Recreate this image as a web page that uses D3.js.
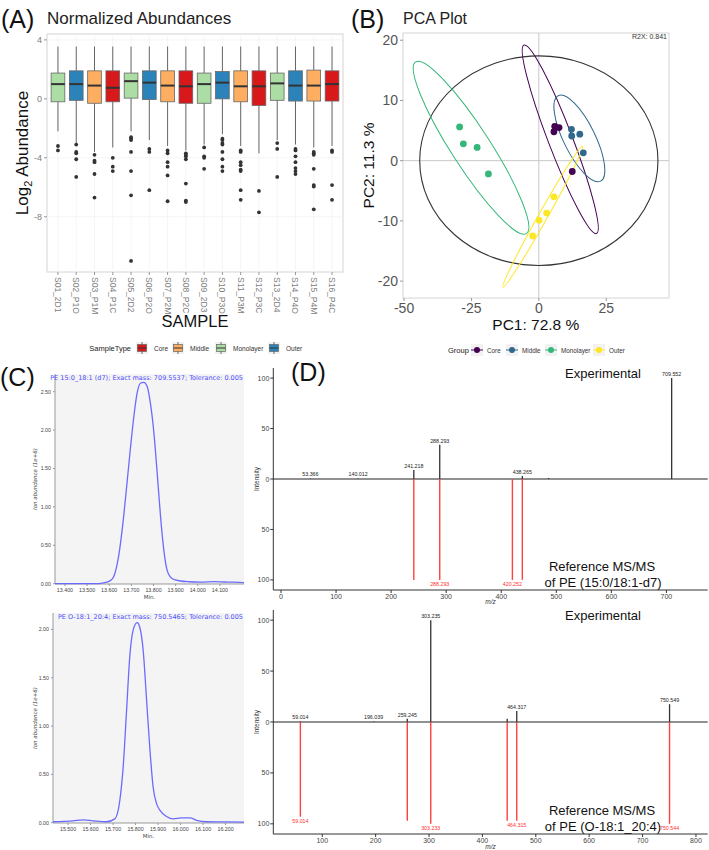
<!DOCTYPE html>
<html><head><meta charset="utf-8">
<script src="https://cdn.jsdelivr.net/npm/d3@7"></script>
<style>
body{margin:0;background:#fff;}
svg{display:block;font-family:"Liberation Sans",Arial,sans-serif;}
</style></head><body>
<svg id="c" width="709" height="850"></svg>
<script>
// ---------- DATA: Panel A (boxplots) ----------
const samples = ["S01_2D1","S02_P1O","S03_P1M","S04_P1C","S05_2D2","S06_P2O","S07_P2M","S08_P2C","S09_2D3","S10_P3O","S11_P3M","S12_P3C","S13_2D4","S14_P4O","S15_P4M","S16_P4C"];
const sampleType = ["Monolayer","Outer","Middle","Core","Monolayer","Outer","Middle","Core","Monolayer","Outer","Middle","Core","Monolayer","Outer","Middle","Core"];
const boxQ3 = [1.75,1.9,1.9,1.9,1.75,1.9,1.9,1.9,1.75,1.85,1.9,1.9,1.75,1.9,1.95,1.9];
const boxMed = [1.0,1.0,0.9,0.75,1.2,1.1,0.9,0.85,1.0,1.1,0.85,0.85,1.05,0.9,0.9,1.0];
const boxQ1 = [-0.2,-0.1,-0.3,-0.2,0.05,-0.05,-0.2,-0.3,-0.3,0.0,-0.2,-0.45,-0.1,-0.15,-0.15,-0.15];
const whiskHi = [3.55,3.55,3.55,3.55,3.55,3.55,3.55,3.55,3.55,3.55,3.55,3.55,3.55,3.55,3.55,3.55];
const whiskLo = [-2.2,-3.0,-3.6,-3.3,-2.2,-2.8,-3.2,-3.5,-3.1,-2.4,-3.2,-3.7,-2.8,-3.1,-3.3,-3.2];
const outliers = [
 [-3.2,-3.5],
 [-3.1,-3.6,-3.7,-4.1,-5.3],
 [-3.8,-4.2,-4.3,-5.1,-6.7],
 [-4.0,-4.6,-4.9],
 [-2.6,-2.7,-2.8,-3.6,-4.9,-6.55,-11.0],
 [-3.4,-3.6,-6.2],
 [-3.5,-3.7,-4.3,-4.6,-5.2,-6.95],
 [-3.7,-3.8,-3.9,-4.1,-5.75,-6.9,-7.0],
 [-3.3,-3.9,-4.0,-4.75],
 [-2.7,-2.8,-3.0,-3.1,-3.6,-4.1,-4.6,-4.9],
 [-3.5,-3.6,-4.3,-4.5,-4.8,-4.9,-6.2,-6.85],
 [-6.25,-7.7],
 [-3.0,-3.4,-5.3],
 [-3.4,-3.5,-3.9,-4.3,-4.7,-4.9,-5.1],
 [-3.6,-3.7,-3.8,-4.75,-5.85,-5.95,-7.5],
 [-3.5,-3.6,-5.85,-6.85]
];
const yTicksA = [4,0,-4,-8];
const typeOrder = ["Core","Middle","Monolayer","Outer"];
const typeColors = ["#D7191C","#FDAE61","#ABDDA4","#2B83BA"];

// ---------- DATA: Panel B (PCA) ----------
const pcaGroup = ["Core","Core","Core","Core","Middle","Middle","Middle","Middle","Monolayer","Monolayer","Monolayer","Monolayer","Outer","Outer","Outer","Outer"];
const pc1 = [5.9,7.5,5.6,12.4, 12.1,12.2,15.2,16.5, -29.4,-28.0,-22.9,-18.7, 5.6,2.9,0.1,-2.3];
const pc2 = [5.7,5.5,4.8,-1.8, 5.2,4.1,4.4,1.3, 5.6,2.8,2.2,-2.2, -6.0,-8.7,-9.9,-12.5];
const ellGroup = ["Monolayer","Core","Middle","Outer"];
const ellCx = [-25.15, 7.95, 15.05, 1.45];
const ellCy = [2.15, 3.55, 3.7, -9.3];
const ellEndX = [-45.7, -5.5, 7.2, -13.3];
const ellEndY = [16.4, 19.2, 10.8, -21.0];
const ellRatio = [0.19, 0.12, 0.33, 0.055];
const hotellingRx = 44.2, hotellingRy = 17.4;
const groupColors = ["#440154","#31688E","#35B779","#FDE725"];
const xTicksB = [-50,-25,0,25];
const yTicksB = [20,10,0,-10,-20];

// ---------- DATA: Panel C (chromatograms) ----------
const chrom1T = [13.355,13.40,13.45,13.50,13.55,13.574,13.605,13.620,13.642,13.665,13.680,13.695,13.711,13.726,13.741,13.756,13.771,13.786,13.802,13.817,13.832,13.847,13.862,13.885,13.923,13.96,14.014,14.074,14.12,14.165,14.209];
const chrom1Y = [0,0,0,0,0.002,0.01,0.04,0.09,0.35,0.87,1.3,1.74,2.17,2.48,2.61,2.62,2.57,2.35,1.96,1.43,0.87,0.43,0.17,0.065,0.035,0.025,0.02,0.026,0.022,0.02,0.013];
const chrom2T = [15.433,15.522,15.567,15.611,15.671,15.708,15.730,15.745,15.760,15.774,15.789,15.807,15.819,15.834,15.849,15.864,15.878,15.893,15.908,15.938,15.967,16.004,16.042,16.071,16.116,16.205,16.282];
const chrom2Y = [0.01,0.02,0.03,0.02,0.01,0.04,0.23,0.58,1.16,1.71,1.99,2.07,2.02,1.78,1.27,0.75,0.37,0.2,0.13,0.065,0.04,0.05,0.05,0.025,0.01,0.008,0.007];
const chrom1Title = "PE 15:0_18:1 (d7); Exact mass: 709.5537; Tolerance: 0.005";
const chrom2Title = "PE O-18:1_20:4; Exact mass: 750.5465; Tolerance: 0.005";
const chrom1XTicks = [13.4,13.5,13.6,13.7,13.8,13.9,14.0,14.1];
const chrom1YTicks = [0,0.5,1,1.5,2,2.5];
const chrom2XTicks = [15.5,15.6,15.7,15.8,15.9,16.0,16.1,16.2];
const chrom2YTicks = [0,0.5,1,1.5,2];

// ---------- DATA: Panel D (MS/MS mirror spectra) ----------
const ms1ExpMz = [53.366,140.012,241.218,288.293,438.265,486,709.552];
const ms1ExpInt = [0.5,0.5,9,34,3,1,100];
const ms1ExpLab = ["53.366","140.012","241.218","288.293","438.265","","709.552"];
const ms1RefMz = [241.2,288.293,420.252,438.3];
const ms1RefInt = [100,100,100,100];
const ms1RefLab = ["","288.293","420.252",""];
const ms2ExpMz = [59.014,196.039,259.245,303.235,446.4,464.317,750.549];
const ms2ExpInt = [0.5,0.5,3.3,100,3.3,10.8,17.5];
const ms2ExpLab = ["59.014","196.039","259.245","303.235","","464.317","750.549"];
const ms2RefMz = [59.014,259.3,303.233,446.4,464.315,750.544];
const ms2RefInt = [93,97,100,97,97,100];
const ms2RefLab = ["59.014","","303.233","","464.315","750.544"];
const ms1XTicks = [0,100,200,300,400,500,600,700];
const ms2XTicks = [100,200,300,400,500,600,700,800];
const msYTicks = [100,50,0,-50,-100];

// =================== DRAW ===================
const svg = d3.select("#c");
const typeColor = d3.scaleOrdinal().domain(typeOrder).range(typeColors);
const grpColor = d3.scaleOrdinal().domain(typeOrder).range(groupColors);

// ---------- Panel A ----------
(function(){
  const g = svg.append("g");
  const x = d3.scalePoint().domain(samples).range([47,343]).padding(0.6);
  const y = d3.scaleLinear().domain([-11.75,4.4]).range([272,34]);
  const bw = x.step()*0.75;
  const [x0,x1] = x.range(), [y0,y1] = y.range();
  g.append("rect").attr("x",x0).attr("y",y1).attr("width",x1-x0).attr("height",y0-y1)
    .attr("fill","#fff").attr("stroke","#d4d4d4").attr("stroke-width",1);
  g.selectAll(".gy").data(yTicksA).join("line").attr("x1",x0).attr("x2",x1)
    .attr("y1",d=>y(d)).attr("y2",d=>y(d)).attr("stroke","#f3f3f3").attr("stroke-width",0.8);
  g.selectAll(".gx").data(samples).join("line").attr("y1",y1).attr("y2",y0)
    .attr("x1",d=>x(d)).attr("x2",d=>x(d)).attr("stroke","#f3f3f3").attr("stroke-width",0.8);
  g.selectAll(".yt").data(yTicksA).join("line").attr("x1",x0-3).attr("x2",x0)
    .attr("y1",d=>y(d)).attr("y2",d=>y(d)).attr("stroke","#999");
  g.selectAll(".ytl").data(yTicksA).join("text").attr("x",x0-5).attr("y",d=>y(d)+3)
    .attr("text-anchor","end").attr("font-size",9).attr("fill","#808080").text(d=>d);
  g.selectAll(".xt").data(samples).join("line").attr("x1",d=>x(d)).attr("x2",d=>x(d))
    .attr("y1",y0).attr("y2",y0+3).attr("stroke","#999");
  g.selectAll(".xtl").data(samples).join("text")
    .attr("transform",d=>`translate(${x(d)-3},${y0+5}) rotate(90)`)
    .attr("font-size",8.5).attr("fill","#808080").text(d=>d);
  samples.forEach((s,i)=>{
    const cx = x(s);
    g.append("line").attr("x1",cx).attr("x2",cx).attr("y1",y(whiskHi[i])).attr("y2",y(boxQ3[i])).attr("stroke","#666").attr("stroke-width",1);
    g.append("line").attr("x1",cx).attr("x2",cx).attr("y1",y(boxQ1[i])).attr("y2",y(whiskLo[i])).attr("stroke","#666").attr("stroke-width",1);
    g.append("rect").attr("x",cx-bw/2).attr("y",y(boxQ3[i])).attr("width",bw)
      .attr("height",y(boxQ1[i])-y(boxQ3[i])).attr("fill",typeColor(sampleType[i]))
      .attr("stroke","#666").attr("stroke-width",0.8);
    g.append("line").attr("x1",cx-bw/2).attr("x2",cx+bw/2).attr("y1",y(boxMed[i])).attr("y2",y(boxMed[i]))
      .attr("stroke","#333").attr("stroke-width",2);
    g.selectAll(null).data(outliers[i]).join("circle").attr("cx",cx).attr("cy",d=>y(d)).attr("r",1.9).attr("fill","#333");
  });
  g.append("text").attr("x",1).attr("y",28).attr("font-size",25).attr("fill","#111").text("(A)");
  g.append("text").attr("x",x0).attr("y",24).attr("font-size",17).attr("fill","#222").text("Normalized Abundances");
  const yl = g.append("text").attr("transform",`translate(28,${(y0+y1)/2}) rotate(-90)`).attr("text-anchor","middle")
    .attr("font-size",17).attr("fill","#111");
  yl.append("tspan").text("Log");
  yl.append("tspan").attr("font-size",11).attr("dy",4).text("2");
  yl.append("tspan").attr("dy",-4).text(" Abundance");
  g.append("text").attr("x",(x0+x1)/2).attr("y",327).attr("text-anchor","middle").attr("font-size",16.5).attr("fill","#111").text("SAMPLE");
  // legend
  const lg = g.append("g");
  lg.append("text").attr("x",131).attr("y",351).attr("text-anchor","end").attr("font-size",7.5).attr("fill","#222").text("SampleType");
  const keyX = [142,178,221,274];
  typeOrder.forEach((t,i)=>{
    lg.append("rect").attr("x",keyX[i]-6).attr("y",342).attr("width",12).attr("height",12).attr("fill","#f2f2f2");
    lg.append("line").attr("x1",keyX[i]).attr("x2",keyX[i]).attr("y1",342).attr("y2",354).attr("stroke","#666");
    lg.append("rect").attr("x",keyX[i]-4.5).attr("y",344.5).attr("width",9).attr("height",7).attr("fill",typeColor(t)).attr("stroke","#666").attr("stroke-width",0.7);
    lg.append("line").attr("x1",keyX[i]-4.5).attr("x2",keyX[i]+4.5).attr("y1",348).attr("y2",348).attr("stroke","#333").attr("stroke-width",1);
    lg.append("text").attr("x",keyX[i]+12).attr("y",350.5).attr("font-size",6.5).attr("fill","#333").text(t);
  });
})();

// ---------- Panel B ----------
(function(){
  const g = svg.append("g");
  const x = d3.scaleLinear().domain([-50.4,48.3]).range([403,669]);
  const y = d3.scaleLinear().domain([-22.8,21.2]).range([298,33]);
  const [x0,x1] = x.range(), [y0,y1] = y.range();
  g.append("rect").attr("x",x0).attr("y",y1).attr("width",x1-x0).attr("height",y0-y1)
    .attr("fill","#fff").attr("stroke","#d4d4d4");
  g.append("line").attr("x1",x(0)).attr("x2",x(0)).attr("y1",y1).attr("y2",y0).attr("stroke","#c8c8c8").attr("stroke-width",1);
  g.append("line").attr("y1",y(0)).attr("y2",y(0)).attr("x1",x0).attr("x2",x1).attr("stroke","#c8c8c8").attr("stroke-width",1);
  g.selectAll(".xt").data(xTicksB).join("line").attr("x1",d=>x(d)).attr("x2",d=>x(d)).attr("y1",y0).attr("y2",y0+3).attr("stroke","#999");
  g.selectAll(".xtl").data(xTicksB).join("text").attr("x",d=>x(d)).attr("y",y0+15).attr("text-anchor","middle")
    .attr("font-size",14).attr("fill","#555").text(d=>d);
  g.selectAll(".yt").data(yTicksB).join("line").attr("x1",x0-3).attr("x2",x0).attr("y1",d=>y(d)).attr("y2",d=>y(d)).attr("stroke","#999");
  g.selectAll(".ytl").data(yTicksB).join("text").attr("x",x0-5).attr("y",d=>y(d)+5).attr("text-anchor","end")
    .attr("font-size",14).attr("fill","#555").text(d=>d);
  g.append("ellipse").attr("cx",x(0)).attr("cy",y(0)).attr("rx",x(hotellingRx)-x(0)).attr("ry",y(0)-y(hotellingRy))
    .attr("fill","none").attr("stroke","#333").attr("stroke-width",1.1);
  ellGroup.forEach((gr,i)=>{
    const px=x(ellCx[i]), py=y(ellCy[i]);
    const ux=x(ellEndX[i])-px, uy=y(ellEndY[i])-py;
    const a=Math.hypot(ux,uy), ang=Math.atan2(uy,ux)*180/Math.PI;
    g.append("ellipse").attr("transform",`translate(${px},${py}) rotate(${ang})`)
      .attr("rx",a).attr("ry",a*ellRatio[i]).attr("fill","none").attr("stroke",grpColor(gr)).attr("stroke-width",1);
  });
  g.selectAll(".pt").data(pc1).join("circle").attr("cx",d=>x(d)).attr("cy",(d,i)=>y(pc2[i])).attr("r",3.4)
    .attr("fill",(d,i)=>grpColor(pcaGroup[i]));
  g.append("text").attr("x",x1-2).attr("y",y1+6).attr("text-anchor","end").attr("font-size",7).attr("fill","#333").text("R2X: 0.841");
  g.append("text").attr("x",351).attr("y",28).attr("font-size",25).attr("fill","#111").text("(B)");
  g.append("text").attr("x",x0).attr("y",24).attr("font-size",16).attr("fill","#222").text("PCA Plot");
  g.append("text").attr("transform",`translate(374,${(y0+y1)/2}) rotate(-90)`).attr("text-anchor","middle")
    .attr("font-size",15.5).attr("fill","#111").text("PC2: 11.3 %");
  g.append("text").attr("x",x(0)-3).attr("y",330).attr("text-anchor","middle").attr("font-size",15.5).attr("fill","#111").text("PC1: 72.8 %");
  // legend
  g.append("text").attr("x",448).attr("y",353).attr("font-size",7.5).attr("fill","#222").text("Group");
  const keyX = [477,512,551,599];
  typeOrder.forEach((t,i)=>{
    g.append("rect").attr("x",keyX[i]-6).attr("y",344).attr("width",12).attr("height",12).attr("fill","#f2f2f2");
    g.append("line").attr("x1",keyX[i]-6).attr("x2",keyX[i]+6).attr("y1",350).attr("y2",350).attr("stroke",grpColor(t)).attr("stroke-width",1);
    g.append("circle").attr("cx",keyX[i]).attr("cy",350).attr("r",3).attr("fill",grpColor(t));
    g.append("text").attr("x",keyX[i]+10).attr("y",352.5).attr("font-size",6.3).attr("fill","#333").text(t);
  });
})();

// ---------- Panel C ----------
function chrom(T,Y,xDom,yDom,xr,yr,xt,yt,title,labelY){
  const g = svg.append("g");
  const x = d3.scaleLinear().domain(xDom).range(xr);
  const y = d3.scaleLinear().domain(yDom).range(yr);
  const [x0,x1]=xr,[y0,y1]=yr;
  g.append("rect").attr("x",x0).attr("y",y1).attr("width",x1-x0).attr("height",y0-y1).attr("fill","#f4f4f4");
  g.append("line").attr("x1",x0).attr("x2",x0).attr("y1",y1).attr("y2",y0).attr("stroke","#999");
  g.append("line").attr("x1",x0).attr("x2",x1).attr("y1",y0).attr("y2",y0).attr("stroke","#999");
  g.selectAll(".yt").data(yt).join("line").attr("x1",x0-2).attr("x2",x0).attr("y1",d=>y(d)).attr("y2",d=>y(d)).attr("stroke","#999");
  g.selectAll(".ytl").data(yt).join("text").attr("x",x0-4).attr("y",d=>y(d)+2).attr("text-anchor","end")
    .attr("font-size",5.3).attr("fill","#444").attr("font-family","Liberation Sans Narrow, Liberation Sans").text(d=>d3.format(".2f")(d));
  g.selectAll(".xt").data(xt).join("line").attr("x1",d=>x(d)).attr("x2",d=>x(d)).attr("y1",y0).attr("y2",y0+2).attr("stroke","#999");
  g.selectAll(".xtl").data(xt).join("text").attr("x",d=>x(d)).attr("y",y0+7.5).attr("text-anchor","middle")
    .attr("font-size",5.3).attr("fill","#444").attr("font-family","Liberation Sans Narrow, Liberation Sans").text(d=>d3.format(".3f")(d));
  const line = d3.line().x((d,i)=>x(T[i])).y(d=>y(d)).curve(d3.curveMonotoneX);
  g.append("path").attr("d",line(Y)).attr("fill","none").attr("stroke","#6b6bff").attr("stroke-width",1.3);
  g.append("text").attr("x",x1-1).attr("y",y1+6).attr("text-anchor","end").attr("font-size",6.5)
    .attr("fill","#4d4dff").attr("font-family","DejaVu Sans").text(title);
  g.append("text").attr("transform",`translate(37,${(y0+y1)/2}) rotate(-90)`).attr("text-anchor","middle")
    .attr("font-size",5.5).attr("font-style","italic").attr("fill","#444").attr("font-family","DejaVu Sans").text("Ion abundance (1e+6)");
  g.append("text").attr("x",(x0+x1)/2).attr("y",labelY).attr("text-anchor","middle").attr("font-size",5.5)
    .attr("fill","#444").attr("font-family","DejaVu Sans").text("Min.");
}
chrom(chrom1T,chrom1Y,[13.355,14.209],[-0.004,2.73],[55,244],[584,374],chrom1XTicks,chrom1YTicks,chrom1Title,599);
chrom(chrom2T,chrom2Y,[15.433,16.282],[-0.003,2.17],[53,244],[823,613],chrom2XTicks,chrom2YTicks,chrom2Title,838);
svg.append("text").attr("x",0).attr("y",386).attr("font-size",25).attr("fill","#111").text("(C)");

// ---------- Panel D ----------
function mirror(eMz,eInt,eLab,rMz,rInt,rLab,xDom,yr,xt,name,topY,refY1,refY2,mzY){
  const g = svg.append("g");
  const x = d3.scaleLinear().domain(xDom).range([273.3,707.7]);
  const y = d3.scaleLinear().domain([-110,110]).range(yr);
  const [x0,x1]=x.range(),[y0,y1]=yr;
  g.append("line").attr("x1",x0).attr("x2",x0).attr("y1",y1).attr("y2",y0).attr("stroke","#333").attr("stroke-width",1);
  g.append("line").attr("x1",x0).attr("x2",x1).attr("y1",y0).attr("y2",y0).attr("stroke","#333").attr("stroke-width",1);
  g.selectAll(".yt").data(msYTicks).join("line").attr("x1",x0-3).attr("x2",x0).attr("y1",d=>y(d)).attr("y2",d=>y(d)).attr("stroke","#333");
  g.selectAll(".ytl").data(msYTicks).join("text").attr("x",x0-4).attr("y",d=>y(d)+2.5).attr("text-anchor","end")
    .attr("font-size",7).attr("fill","#444").text(d=>Math.abs(d));
  g.selectAll(".xt").data(xt).join("line").attr("x1",d=>x(d)).attr("x2",d=>x(d)).attr("y1",y0).attr("y2",y0+3).attr("stroke","#333");
  g.selectAll(".xtl").data(xt).join("text").attr("x",d=>x(d)).attr("y",y0+9).attr("text-anchor","middle")
    .attr("font-size",7).attr("fill","#444").text(d=>d);
  g.append("text").attr("transform",`translate(259,${y(0)}) rotate(-90)`).attr("text-anchor","middle")
    .attr("font-size",6.5).attr("fill","#333").text("Intensity");
  g.append("text").attr("x",(x0+x1)/2).attr("y",mzY).attr("text-anchor","middle").attr("font-size",6.5).attr("font-style","italic").attr("fill","#333").text("m/z");
  g.append("line").attr("x1",x0).attr("x2",x1).attr("y1",y(0)).attr("y2",y(0)).attr("stroke","#222").attr("stroke-width",1);
  g.selectAll(".rp").data(rMz).join("line").attr("x1",d=>x(d)).attr("x2",d=>x(d))
    .attr("y1",y(0)).attr("y2",(d,i)=>y(-rInt[i])).attr("stroke","#ff4040").attr("stroke-width",1.4);
  g.selectAll(".rl").data(rMz).join("text").attr("x",d=>x(d)).attr("y",(d,i)=>y(-rInt[i])+6.5)
    .attr("text-anchor","middle").attr("font-size",5.3).attr("fill","#ff3030").text((d,i)=>rLab[i]);
  g.selectAll(".ep").data(eMz).join("line").attr("x1",d=>x(d)).attr("x2",d=>x(d))
    .attr("y1",y(0)).attr("y2",(d,i)=>y(eInt[i])).attr("stroke","#333").attr("stroke-width",1.3);
  g.selectAll(".el").data(eMz).join("text").attr("x",d=>x(d)).attr("y",(d,i)=>y(eInt[i])-2)
    .attr("text-anchor","middle").attr("font-size",5.3).attr("fill","#222").text((d,i)=>eLab[i]);
  g.append("text").attr("x",603).attr("y",topY).attr("text-anchor","middle").attr("font-size",13).attr("fill","#111").text("Experimental");
  g.append("text").attr("x",602).attr("y",refY1).attr("text-anchor","middle").attr("font-size",13).attr("fill","#111").text("Reference MS/MS");
  g.append("text").attr("x",603).attr("y",refY2).attr("text-anchor","middle").attr("font-size",13).attr("fill","#111").text(name);
}
mirror(ms1ExpMz,ms1ExpInt,ms1ExpLab,ms1RefMz,ms1RefInt,ms1RefLab,[-14,775],[590,368],ms1XTicks,"of PE (15:0/18:1-d7)",378,571,587,604);
mirror(ms2ExpMz,ms2ExpInt,ms2ExpLab,ms2RefMz,ms2RefInt,ms2RefLab,[8.3,822],[834,610],ms2XTicks,"of PE (O-18:1_20:4)",620,815,831,849);
svg.append("text").attr("x",291).attr("y",381).attr("font-size",25).attr("fill","#111").text("(D)");
</script></body></html>
